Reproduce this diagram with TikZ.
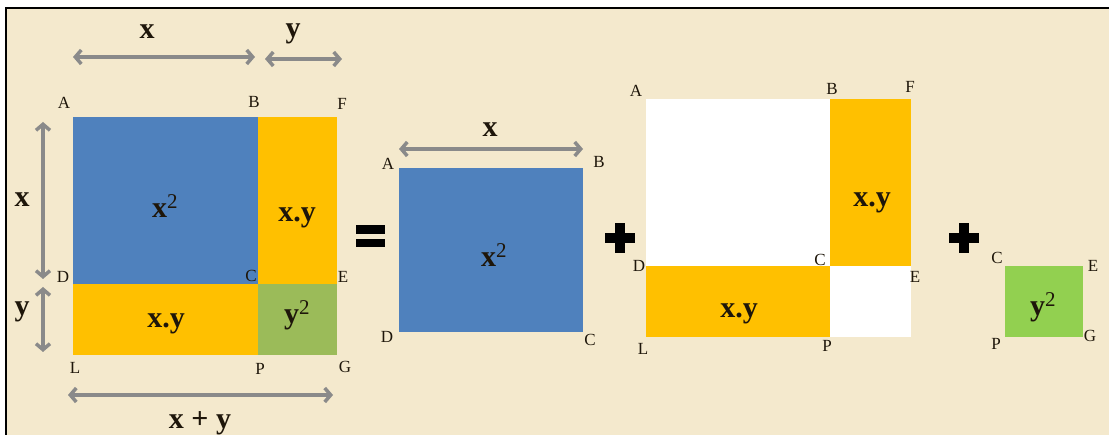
\documentclass[tikz,border=0pt]{standalone}
\usepackage{fontspec}
\setmainfont{Liberation Serif}
\usetikzlibrary{arrows.meta}

\definecolor{paper}{RGB}{244,233,205}
\definecolor{sqblue}{RGB}{79,129,189}
\definecolor{sqyellow}{RGB}{255,192,0}
\definecolor{sqgreen}{RGB}{155,187,89}
\definecolor{sqlime}{RGB}{146,208,80}
\definecolor{dimgray}{RGB}{138,138,138}
\definecolor{ink}{RGB}{30,22,10}

\newcommand{\sq}{\textsuperscript{\mdseries 2}}

\tikzset{
  dimarrow/.style={draw=dimgray, line width=3.5pt,
    {Straight Barb[length=6pt,width=14pt]}-{Straight Barb[length=6pt,width=14pt]}},
  corner/.style={anchor=base, inner sep=0pt, text=ink, font=\fontsize{17}{17}\selectfont},
  term/.style={anchor=base, inner sep=0pt, text=ink, font=\fontsize{30}{30}\selectfont\bfseries},
}

\begin{document}
\begin{tikzpicture}[x=1pt, y=-1pt, line width=0.4pt]
\useasboundingbox (0,0) rectangle (1109,435);
\fill[paper] (6,8) rectangle (1109,435);
\draw[line width=2pt] (6,435) -- (6,8) -- (1109,8);

% whole square (x+y)^2
\coordinate (A1) at (73,117);  \coordinate (B1) at (258,117); \coordinate (F1) at (337,117);
\coordinate (D1) at (73,284);  \coordinate (C1) at (258,284); \coordinate (E1) at (337,284);
\coordinate (L1) at (73,355);  \coordinate (P1) at (258,355); \coordinate (G1) at (337,355);
\fill[sqblue] (A1) rectangle (C1);
\fill[sqyellow] (B1) rectangle (E1);
\fill[sqyellow] (D1) rectangle (P1);
\fill[sqgreen] (C1) rectangle (G1);

% pieces on the right side
\coordinate (A2) at (399,168); \coordinate (C2) at (583,332);
\fill[sqblue] (A2) rectangle (C2);

\coordinate (A3) at (646,99);  \coordinate (B3) at (830,99);  \coordinate (F3) at (911,99);
\coordinate (D3) at (646,266); \coordinate (C3) at (830,266); \coordinate (E3) at (911,266);
\coordinate (L3) at (646,337); \coordinate (P3) at (830,337); \coordinate (G3) at (911,337);
\fill[white] (A3) rectangle (C3);
\fill[sqyellow] (B3) rectangle (E3);
\fill[sqyellow] (D3) rectangle (P3);
\fill[white] (C3) rectangle (G3);

\coordinate (C4) at (1005,266); \coordinate (G4) at (1083,337);
\fill[sqlime] (C4) rectangle (G4);

% = and + signs
\fill (356,225) rectangle (385,234);
\fill (356,239) rectangle (385,247);
\foreach \cx in {620,964} {
    \fill (\cx-15,233) rectangle (\cx+15,243);
    \fill (\cx-5,223) rectangle (\cx+5,253);
}

% dimension arrows
\coordinate (tx1) at (73,57);  \coordinate (tx2) at (255,57);
\coordinate (ty1) at (265,59); \coordinate (ty2) at (342,59);
\coordinate (lx1) at (43,122); \coordinate (lx2) at (43,279);
\coordinate (ly1) at (43,287); \coordinate (ly2) at (43,352);
\coordinate (bs1) at (68,395); \coordinate (bs2) at (333,395);
\coordinate (mx1) at (399,149); \coordinate (mx2) at (583,149);
\draw[dimarrow] (tx1) -- (tx2);
\draw[dimarrow] (ty1) -- (ty2);
\draw[dimarrow] (lx1) -- (lx2);
\draw[dimarrow] (ly1) -- (ly2);
\draw[dimarrow] (bs1) -- (bs2);
\draw[dimarrow] (mx1) -- (mx2);

\node[term] (tx) at (147,39) {x};
\node[term] (ty) at (293,38) {y};
\node[term] (lx) at (22,207) {x};
\node[term] (ly) at (22,316) {y};
\node[term] (bs) at (200,429) {x + y};
\node[term] (mx) at (490,137) {x};

% areas
\node[term] (q1) at (165,218) {x\sq};
\node[term] (r1) at (297,222) {x.y};
\node[term] (s1) at (166,328) {x.y};
\node[term] (t1) at (297,324) {y\sq};
\node[term] (q2) at (494,267) {x\sq};
\node[term] (r3) at (872,207) {x.y};
\node[term] (s3) at (739,318) {x.y};
\node[term] (t4) at (1043,316) {y\sq};

% corner letters
\foreach \n/\l/\x/\y in {a1/A/64/109, b1/B/254/108, f1/F/342/110,
    d1/D/63/283, c1/C/251/282, e1/E/343/283,
    l1/L/75/374, p1/P/260/375, g1/G/345/373,
    a2/A/388/170, b2/B/599/168, d2/D/387/343, c2/C/590/346,
    a3/A/636/97, b3/B/832/95, f3/F/910/93,
    d3/D/639/272, c3/C/820/266, e3/E/915/283,
    l3/L/643/355, p3/P/827/352,
    c4/C/997/264, e4/E/1093/272, p4/P/996/350, g4/G/1090/342} {
    \node[corner] (\n) at (\x,\y) {\l};
}
\end{tikzpicture}
\end{document}
